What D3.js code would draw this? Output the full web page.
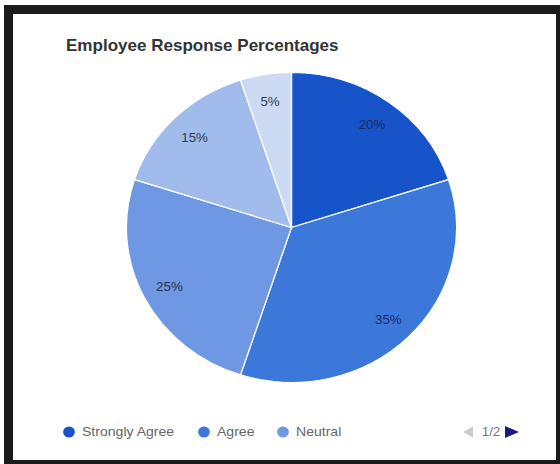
<!DOCTYPE html>
<html>
<head>
<meta charset="utf-8">
<script src="https://cdn.jsdelivr.net/npm/d3@7"></script>
<style>
  html, body { margin: 0; padding: 0; background: #ffffff; }
  svg { display: block; font-family: "Liberation Sans", Arial, sans-serif; }
</style>
</head>
<body>
<svg id="chart" width="560" height="464"></svg>
<script>
// Survey answers and their share of responses (percent)
const categories = ["Strongly Agree", "Agree", "Neutral", "Disagree", "Strongly Disagree"];
const percentages = [20, 35, 25, 15, 5];
const sliceColors = ["#1754c9", "#3c78d9", "#6e98e3", "#a0bbec", "#cddaf4"];
const labelColors = ["#1b2a66", "#1b2a66", "#2a3350", "#333a4a", "#333a4a"];
// First legend page shows three entries
const legendPage = 1, legendPages = 2, legendPerPage = 3;

const svg = d3.select("#chart");
const W = 560, H = 464;
const sx = 1.065; // horizontal stretch of the whole card

// Card frame
svg.append("rect").attr("x", 0).attr("y", 0).attr("width", W).attr("height", H).attr("fill", "#ffffff");
svg.append("rect")
  .attr("x", 8.5).attr("y", 9.5).attr("width", 552).attr("height", 455)
  .attr("fill", "#ffffff").attr("stroke", "#1c1a1b").attr("stroke-width", 9);

// Title
svg.append("text")
  .attr("transform", `translate(66,51) scale(${sx},1)`)
  .attr("font-size", 16).attr("font-weight", "bold").attr("fill", "#333333")
  .text("Employee Response Percentages");

// Pie geometry (slightly wider than tall)
const cx = 291.5, cy = 227.5, ry = 155;
const color = d3.scaleOrdinal().domain(categories).range(sliceColors);
const data = categories.map((c, i) => ({ category: c, value: percentages[i] }));
const pie = d3.pie().value(d => d.value).sort(null);
const arcs = pie(data);
const arc = d3.arc().innerRadius(0).outerRadius(ry);

const g = svg.append("g").attr("transform", `translate(${cx},${cy}) scale(${sx},1)`);
g.selectAll("path.slice")
  .data(arcs)
  .join("path")
  .attr("class", "slice")
  .attr("d", arc)
  .attr("fill", d => color(d.data.category))
  .attr("stroke", "#ffffff")
  .attr("stroke-width", 1.2);

// Percentage labels inside each slice
const labelArc = d3.arc().innerRadius(ry * 0.83).outerRadius(ry * 0.83);
svg.selectAll("text.pct")
  .data(arcs)
  .join("text")
  .attr("class", "pct")
  .attr("transform", d => `translate(${cx + labelArc.centroid(d)[0] * sx},${cy + labelArc.centroid(d)[1] + 1}) scale(${sx},1)`)
  .attr("text-anchor", "middle")
  .attr("dominant-baseline", "central")
  .attr("font-size", 12.5)
  .attr("fill", (d, i) => labelColors[i])
  .text(d => d.data.value + "%");

// Legend (first page)
const legendItems = categories.slice(0, legendPerPage);
const legendX = [69, 204, 283];
const ly = 432;
const leg = svg.selectAll("g.legend")
  .data(legendItems)
  .join("g")
  .attr("class", "legend")
  .attr("transform", (d, i) => `translate(${legendX[i]},${ly})`);
leg.append("ellipse").attr("rx", 5.5 * sx).attr("ry", 5.5).attr("fill", d => color(d));
leg.append("text")
  .attr("transform", `translate(13,0) scale(${sx},1)`)
  .attr("dominant-baseline", "central")
  .attr("font-size", 13.2).attr("fill", "#666666")
  .text(d => d);

// Pager
const pager = svg.append("g").attr("transform", `translate(0,${ly})`);
pager.append("path").attr("d", "M463,0 L473,-5.5 L473,5.5 Z").attr("fill", "#cccccc");
pager.append("text")
  .attr("transform", `translate(491,0) scale(${sx},1)`)
  .attr("text-anchor", "middle").attr("dominant-baseline", "central")
  .attr("font-size", 12.5).attr("fill", "#777777")
  .text(`${legendPage}/${legendPages}`);
pager.append("path").attr("d", "M505,-6 L519,0 L505,6 Z").attr("fill", "#1a1a80");
</script>
</body>
</html>
